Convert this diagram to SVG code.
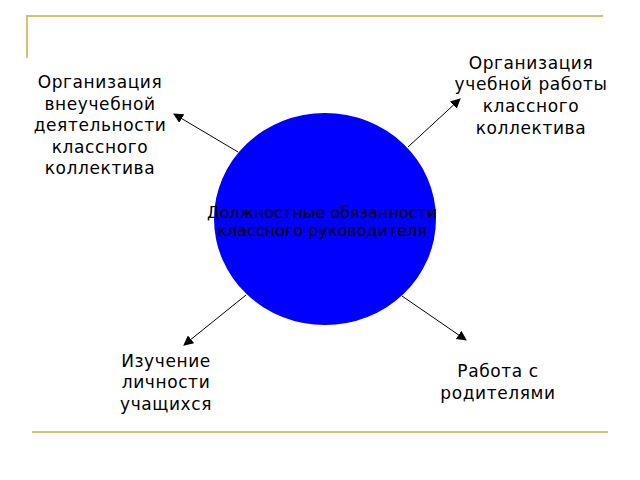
<svg xmlns="http://www.w3.org/2000/svg" width="640" height="480" viewBox="0 0 640 480">
<style>
.frame{stroke:#d9bf6e;stroke-width:2;fill:none}
.lbl{font-family:"DejaVu Sans",sans-serif;font-size:17px;letter-spacing:0.6px;fill:#000;text-anchor:middle}
.ctr{font-family:"DejaVu Sans",sans-serif;font-size:16px;fill:#000;text-anchor:middle}
.conn{stroke:#000;stroke-width:1;fill:none;marker-end:url(#arr)}
</style>
<defs>
<marker id="arr" viewBox="0 0 10 10" refX="9" refY="5" markerWidth="10" markerHeight="10" markerUnits="userSpaceOnUse" orient="auto">
<path d="M0,0 L10,5 L0,10 z" fill="#000"/>
</marker>
</defs>
<rect width="640" height="480" fill="#fff"/>
<path class="frame" d="M27,58 V16 H603"/>
<path class="frame" d="M32,432 H608"/>
<g id="connectors">
<line class="conn" x1="238" y1="152" x2="174" y2="114"/>
<line class="conn" x1="408" y1="147" x2="460" y2="99"/>
<line class="conn" x1="246" y1="295" x2="184" y2="345"/>
<line class="conn" x1="402" y1="296" x2="466" y2="340"/>
</g>
<g id="center">
<ellipse cx="325" cy="219" rx="111" ry="106" fill="#0000ff"/>
<text class="ctr" x="322" y="218">Должностные обязанности</text>
<text class="ctr" x="322" y="236">классного руководителя</text>
</g>
<g id="n-extracurricular">
<text class="lbl" x="100" y="88">Организация</text>
<text class="lbl" x="100" y="110">внеучебной</text>
<text class="lbl" x="100" y="131">деятельности</text>
<text class="lbl" x="100" y="153">классного</text>
<text class="lbl" x="100" y="174">коллектива</text>
</g>
<g id="n-study">
<text class="lbl" x="531" y="69">Организация</text>
<text class="lbl" x="531" y="90">учебной работы</text>
<text class="lbl" x="531" y="112">классного</text>
<text class="lbl" x="531" y="134">коллектива</text>
</g>
<g id="n-students">
<text class="lbl" x="166" y="367">Изучение</text>
<text class="lbl" x="166" y="388">личности</text>
<text class="lbl" x="166" y="410">учащихся</text>
</g>
<g id="n-parents">
<text class="lbl" x="498" y="377">Работа с</text>
<text class="lbl" x="498" y="399">родителями</text>
</g>
</svg>
